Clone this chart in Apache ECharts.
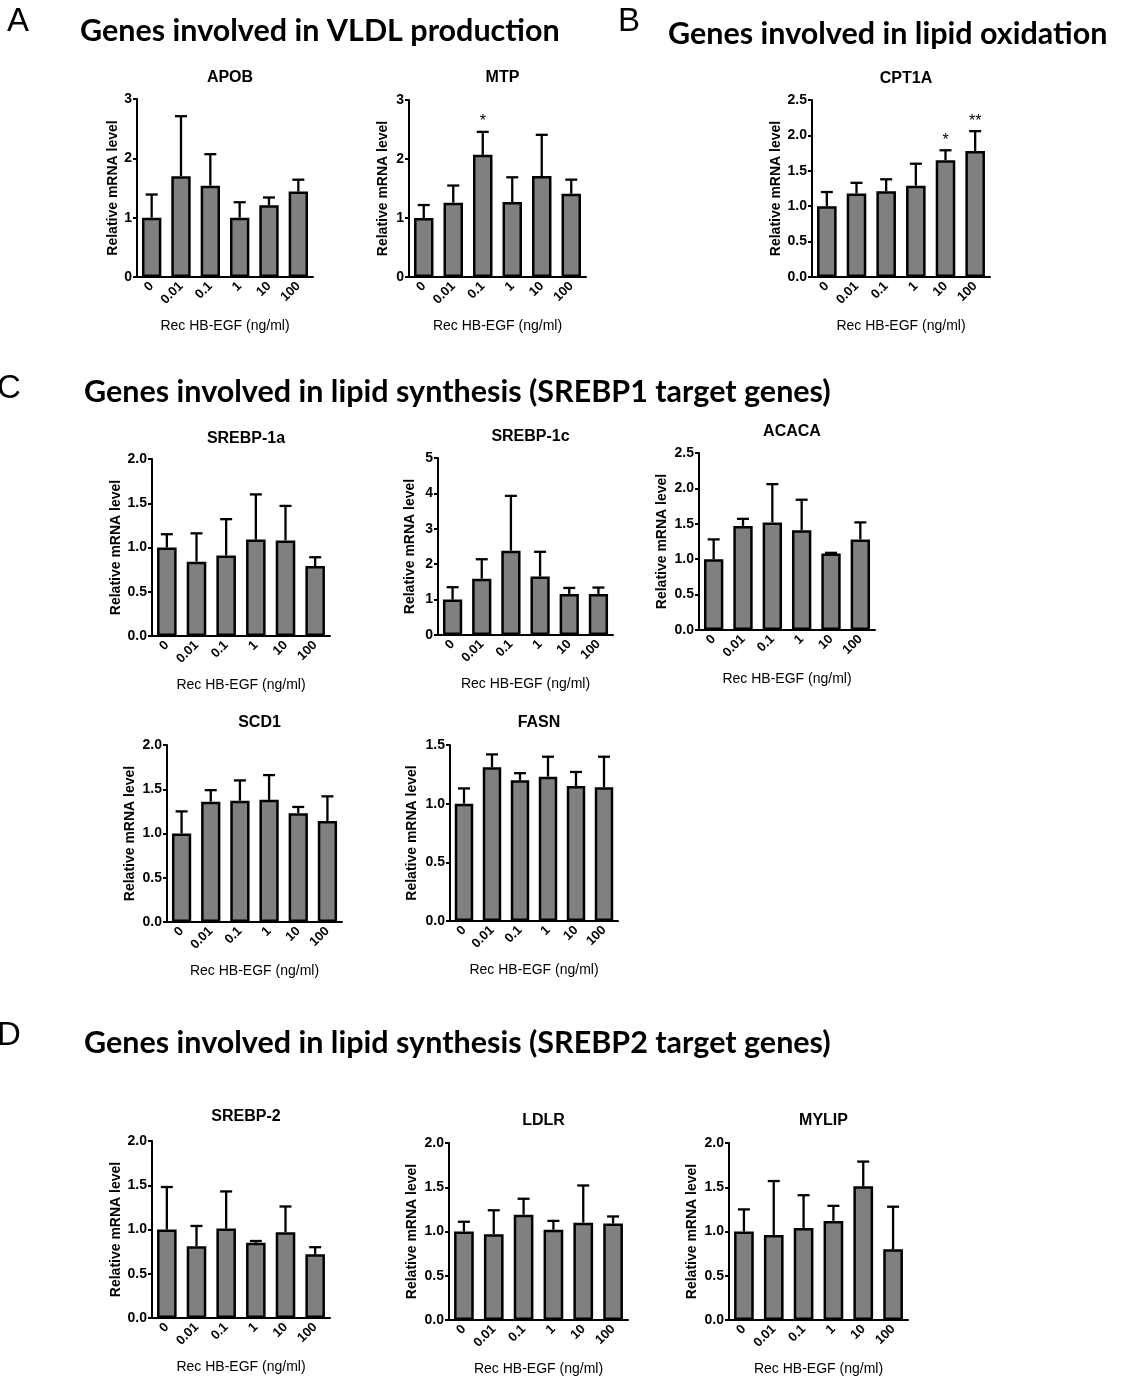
<!DOCTYPE html>
<html><head><meta charset="utf-8">
<script src="https://cdn.jsdelivr.net/npm/echarts@6/dist/echarts.min.js"></script>
<style>html,body{margin:0;padding:0;background:#fff}#c{width:1122px;height:1383px}</style>
</head><body><div id="c"></div>
<script>
// ---- categories ----
const doses = ['0', '0.01', '0.1', '1', '10', '100'];

// ---- mean values and upper error-bar ends (mean + SEM) ----
const apobMean = [1.00, 1.70, 1.54, 1.00, 1.21, 1.44];
const apobTop  = [1.39, 2.71, 2.07, 1.26, 1.34, 1.64];
const mtpMean  = [1.00, 1.26, 2.07, 1.27, 1.71, 1.41];
const mtpTop   = [1.22, 1.55, 2.46, 1.69, 2.41, 1.65];
const cpt1aMean = [1.00, 1.18, 1.21, 1.29, 1.65, 1.78];
const cpt1aTop  = [1.20, 1.33, 1.38, 1.60, 1.79, 2.06];
const srebp1aMean = [1.00, 0.84, 0.91, 1.09, 1.08, 0.79];
const srebp1aTop  = [1.15, 1.16, 1.32, 1.60, 1.47, 0.89];
const srebp1cMean = [1.00, 1.59, 2.38, 1.65, 1.16, 1.16];
const srebp1cTop  = [1.35, 2.14, 3.93, 2.35, 1.33, 1.34];
const acacaMean = [1.00, 1.47, 1.52, 1.41, 1.08, 1.28];
const acacaTop  = [1.28, 1.57, 2.06, 1.84, 1.09, 1.52];
const scd1Mean = [1.00, 1.36, 1.37, 1.38, 1.23, 1.14];
const scd1Top  = [1.25, 1.49, 1.60, 1.66, 1.30, 1.42];
const fasnMean = [1.00, 1.31, 1.20, 1.23, 1.15, 1.14];
const fasnTop  = [1.13, 1.42, 1.26, 1.40, 1.27, 1.40];
const srebp2Mean = [1.00, 0.81, 1.01, 0.85, 0.97, 0.72];
const srebp2Top  = [1.48, 1.04, 1.43, 0.87, 1.26, 0.80];
const ldlrMean = [1.00, 0.97, 1.19, 1.02, 1.10, 1.09];
const ldlrTop  = [1.11, 1.24, 1.37, 1.12, 1.52, 1.17];
const mylipMean = [1.00, 0.96, 1.04, 1.12, 1.51, 0.80];
const mylipTop  = [1.25, 1.57, 1.41, 1.29, 1.79, 1.28];

// ---- significance marks ----
const sigNone  = ['', '', '', '', '', ''];
const sigMTP   = ['', '', '*', '', '', ''];
const sigCPT1A = ['', '', '', '', '*', '**'];

// ---- text ----
const xName = 'Rec HB-EGF (ng/ml)';
const yName = 'Relative mRNA level';

// ---- panels (data refs + layout) ----
const panels = [
  { t: 'APOB', mean: apobMean, top: apobTop, sig: sigNone, max: 3, iv: 1, dec: 0, box: [137, 99, 176, 178], gap: 17, ty: 74 },
  { t: 'MTP', mean: mtpMean, top: mtpTop, sig: sigMTP, max: 3, iv: 1, dec: 0, box: [409, 100, 177, 177], gap: 19, ty: 74 },
  { t: 'CPT1A', mean: cpt1aMean, top: cpt1aTop, sig: sigCPT1A, max: 2.5, iv: 0.5, dec: 1, box: [812, 100, 178, 177], gap: 28, ty: 75 },
  { t: 'SREBP-1a', mean: srebp1aMean, top: srebp1aTop, sig: sigNone, max: 2, iv: 0.5, dec: 1, box: [152, 459, 178, 177], gap: 28, ty: 435 },
  { t: 'SREBP-1c', mean: srebp1cMean, top: srebp1cTop, sig: sigNone, max: 5, iv: 1, dec: 0, box: [438, 458, 175, 177], gap: 21, ty: 433 },
  { t: 'ACACA', mean: acacaMean, top: acacaTop, sig: sigNone, max: 2.5, iv: 0.5, dec: 1, box: [699, 453, 176, 177], gap: 30, ty: 428 },
  { t: 'SCD1', mean: scd1Mean, top: scd1Top, sig: sigNone, max: 2, iv: 0.5, dec: 1, box: [167, 745, 175, 177], gap: 30, ty: 719 },
  { t: 'FASN', mean: fasnMean, top: fasnTop, sig: sigNone, max: 1.5, iv: 0.5, dec: 1, box: [450, 745, 168, 176], gap: 31, ty: 719 },
  { t: 'SREBP-2', mean: srebp2Mean, top: srebp2Top, sig: sigNone, max: 2, iv: 0.5, dec: 1, box: [152, 1141, 178, 177], gap: 28, ty: 1113 },
  { t: 'LDLR', mean: ldlrMean, top: ldlrTop, sig: sigNone, max: 2, iv: 0.5, dec: 1, box: [449, 1143, 179, 177], gap: 30, ty: 1117 },
  { t: 'MYLIP', mean: mylipMean, top: mylipTop, sig: sigNone, max: 2, iv: 0.5, dec: 1, box: [729, 1143, 179, 177], gap: 30, ty: 1117 }
];

const FF = '"Liberation Sans", Arial, sans-serif';
const headFF = 'Lato, "Open Sans", sans-serif';

const grid = [], xAxis = [], yAxis = [], series = [], title = [];
panels.forEach((p, i) => {
  const [l, t, w, h] = p.box;
  grid.push({ left: l, top: t, width: w, height: h, containLabel: false });
  title.push({
    text: p.t, left: l + w / 2, top: p.ty - 9, textAlign: 'center',
    textStyle: { fontFamily: FF, fontSize: 16, fontWeight: 'bold', color: '#000' }
  });
  xAxis.push({
    type: 'category', gridIndex: i, data: doses,
    name: xName, nameLocation: 'middle', nameGap: 42,
    nameTextStyle: { fontFamily: FF, fontSize: 14, color: '#000' },
    axisLine: { lineStyle: { color: '#000', width: 2 } },
    axisTick: { alignWithLabel: true, length: 3, lineStyle: { color: '#000', width: 1.5 } },
    axisLabel: { rotate: 45, margin: 7, fontFamily: FF, fontSize: 13, fontWeight: 'bold', color: '#000', interval: 0 }
  });
  yAxis.push({
    type: 'value', gridIndex: i, min: 0, max: p.max, interval: p.iv,
    name: yName, nameLocation: 'middle', nameRotate: 90, nameGap: p.gap,
    nameTextStyle: { fontFamily: FF, fontSize: 14, fontWeight: 'bold', color: '#000' },
    axisLine: { show: true, lineStyle: { color: '#000', width: 2 } },
    axisTick: { show: true, length: 4, lineStyle: { color: '#000', width: 2 } },
    splitLine: { show: false },
    axisLabel: {
      margin: 5, fontFamily: FF, fontSize: 14, fontWeight: 'bold', color: '#000',
      formatter: v => v.toFixed(p.dec)
    }
  });
  series.push({
    type: 'bar', xAxisIndex: i, yAxisIndex: i, data: p.mean, barWidth: '66%',
    itemStyle: { color: '#808080', borderColor: '#000', borderWidth: 2.5 },
    silent: true, animation: false
  });
  const errData = p.mean.map((m, k) => [k, m, p.top[k]]);
  series.push({
    type: 'custom', xAxisIndex: i, yAxisIndex: i, data: errData, z: 5, animation: false, silent: true,
    renderItem: (params, api) => {
      const x = api.value(0), m = api.value(1), tp = api.value(2);
      const a = api.coord([x, m]), b = api.coord([x, tp]);
      const hw = 6;
      const ch = [
        { type: 'line', shape: { x1: a[0], y1: a[1], x2: b[0], y2: b[1] }, style: { stroke: '#000', lineWidth: 2.3 } },
        { type: 'line', shape: { x1: b[0] - hw, y1: b[1], x2: b[0] + hw, y2: b[1] }, style: { stroke: '#000', lineWidth: 2.3 } }
      ];
      const s = p.sig[params.dataIndex];
      if (s) {
        ch.push({ type: 'text', style: { text: s, x: b[0], y: b[1] - 2, align: 'center', verticalAlign: 'bottom', fontFamily: FF, fontSize: 16, fill: '#000' } });
      }
      return { type: 'group', children: ch };
    }
  });
});

const HS = 30.5;
const graphic = [
  { type: 'text', x: 7, y: 22, style: { text: 'A', fontFamily: FF, fontSize: 33, fill: '#000', verticalAlign: 'middle' } },
  { type: 'text', x: 80, y: 31, style: { text: 'Genes involved in VLDL production', fontFamily: headFF, fontWeight: 'bold', fontSize: HS, fill: '#000', verticalAlign: 'middle' } },
  { type: 'text', x: 618, y: 22, style: { text: 'B', fontFamily: FF, fontSize: 33, fill: '#000', verticalAlign: 'middle' } },
  { type: 'text', x: 668, y: 34, style: { text: 'Genes involved in lipid oxidation', fontFamily: headFF, fontWeight: 'bold', fontSize: HS, fill: '#000', verticalAlign: 'middle' } },
  { type: 'text', x: -3, y: 389, style: { text: 'C', fontFamily: FF, fontSize: 33, fill: '#000', verticalAlign: 'middle' } },
  { type: 'text', x: 84, y: 392, style: { text: 'Genes involved in lipid synthesis (SREBP1 target genes)', fontFamily: headFF, fontWeight: 'bold', fontSize: HS, fill: '#000', verticalAlign: 'middle' } },
  { type: 'text', x: -3, y: 1036, style: { text: 'D', fontFamily: FF, fontSize: 33, fill: '#000', verticalAlign: 'middle' } },
  { type: 'text', x: 84, y: 1043, style: { text: 'Genes involved in lipid synthesis (SREBP2 target genes)', fontFamily: headFF, fontWeight: 'bold', fontSize: HS, fill: '#000', verticalAlign: 'middle' } }
];

const chart = echarts.init(document.getElementById('c'), null, { renderer: 'canvas' });
chart.setOption({
  backgroundColor: '#fff', animation: false,
  title, grid, xAxis, yAxis, series, graphic
});
</script></body></html>
